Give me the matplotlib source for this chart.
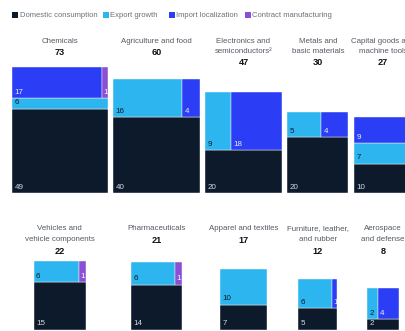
#!/usr/bin/env python3
"""Growth sources by sector: area-proportional boxes split into drivers."""
import math

import matplotlib

matplotlib.use("Agg")
import matplotlib.pyplot as plt
from matplotlib.patches import Rectangle

plt.rcParams["font.family"] = ["Liberation Sans", "DejaVu Sans"]

# sector data
top_names = ["Chemicals", "Agriculture and food", "Electronics and\nsemiconductors\u00b2",
             "Metals and\nbasic materials", "Capital goods and\nmachine tools"]
top_totals = [73, 60, 47, 30, 27]
top_domestic = [49, 40, 20, 20, 10]
top_export = [6, 16, 9, 5, 7]
top_import = [17, 4, 18, 4, 9]
top_contract = [1, 0, 0, 0, 0]

bottom_names = ["Vehicles and\nvehicle components", "Pharmaceuticals", "Apparel and textiles",
                "Furniture, leather,\nand rubber", "Aerospace\nand defense"]
bottom_totals = [22, 21, 17, 12, 8]
bottom_domestic = [15, 14, 7, 5, 2]
bottom_export = [6, 6, 10, 6, 2]
bottom_import = [0, 0, 0, 1, 4]
bottom_contract = [1, 1, 0, 0, 0]

# sectors where export growth is its own full-width band
export_band = {"Chemicals", "Capital goods and\nmachine tools"}

legend_labels = ["Domestic consumption", "Export growth", "Import localization",
                 "Contract manufacturing"]
colors = ["#0c1a2c", "#2cb5ee", "#2b3ef5", "#8a4fd2"]
label_colors = ["#d5d9e0", "#0c1a2c", "#e8ecff", "#ffffff"]

W, H = 405, 331
KX, KY = 11.2, 14.7  # px per sqrt(unit)
GAP = 5.3


def draw_box(ax, x0, base, name, total, parts):
    w = KX * math.sqrt(total)
    h = KY * math.sqrt(total)
    psum = sum(parts)
    dom, exp, imp, con = parts
    if name in export_band:
        rows = [[(0, dom)], [(1, exp)], [(2, imp), (3, con)]]
    else:
        rows = [[(0, dom)], [(1, exp), (2, imp), (3, con)]]
    y = base
    for row in rows:
        row = [(k, v) for k, v in row if v > 0]
        s = sum(v for _, v in row)
        if s == 0:
            continue
        rh = h * s / psum
        x = x0
        for k, v in row:
            sw = w * v / s
            ax.add_patch(Rectangle((x, y - rh), sw, rh, facecolor=colors[k],
                                   edgecolor="white", linewidth=0.3))
            pad = 1.4 if sw < 8 else 2.5
            ax.text(x + pad, y - 2.3, str(v), fontsize=5.8, color=label_colors[k],
                    ha="left", va="bottom")
            x += sw
        y -= rh
    return w


def draw_titles(ax, cx, y0, pitch, name, total):
    lines = name.split("\n")
    for i, ln in enumerate(lines):
        ax.text(cx, y0 + i * pitch, ln, fontsize=5.7, color="#555b63",
                ha="center", va="center")
    ax.text(cx, y0 + len(lines) * pitch + 0.5, str(total), fontsize=6.6,
            color="#111111", fontweight="bold", ha="center", va="center")


fig = plt.figure(figsize=(W / 100, H / 100), dpi=100)
ax = fig.add_axes([0, 0, 1, 1])
ax.set_xlim(0, W)
ax.set_ylim(H, 0)
ax.axis("off")

# legend
leg_x = [12, 103, 169, 245]
for lx, lab, col in zip(leg_x, legend_labels, colors):
    ax.add_patch(Rectangle((lx, 12), 6, 6, facecolor=col, edgecolor="none"))
    ax.text(lx + 7.5, 15.2, lab, fontsize=5.5, color="#6b7078", ha="left", va="center")

# top row
centers = []
x = 12
for i, name in enumerate(top_names):
    parts = [top_domestic[i], top_export[i], top_import[i], top_contract[i]]
    w = draw_box(ax, x, 193, name, top_totals[i], parts)
    cx = x + w / 2
    centers.append(cx)
    draw_titles(ax, cx, 41.5, 10.2, name, top_totals[i])
    x += w + GAP

# bottom row, centred under the top-row columns
for i, name in enumerate(bottom_names):
    parts = [bottom_domestic[i], bottom_export[i], bottom_import[i], bottom_contract[i]]
    w = KX * math.sqrt(bottom_totals[i])
    draw_box(ax, centers[i] - w / 2, 329.5, name, bottom_totals[i], parts)
    draw_titles(ax, centers[i], 228.5, 11.2, name, bottom_totals[i])

fig.savefig("out.png", dpi=100)
